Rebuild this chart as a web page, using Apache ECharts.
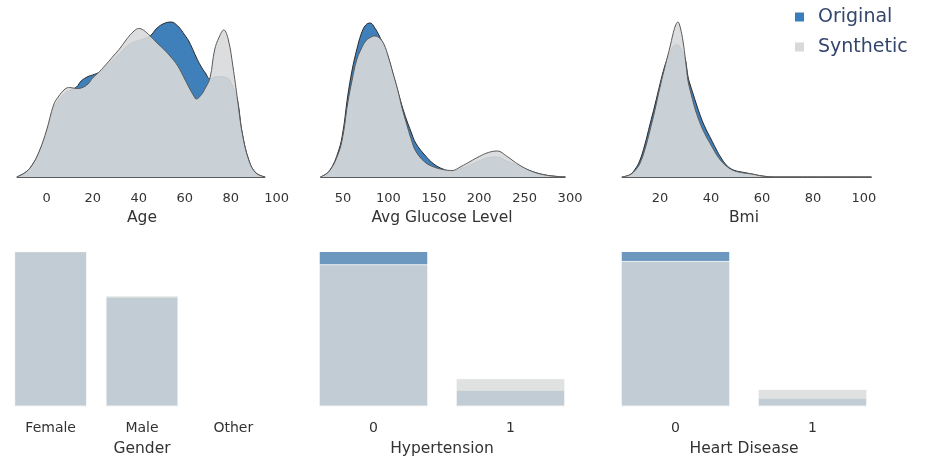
<!DOCTYPE html>
<html>
<head>
<meta charset="utf-8">
<script src="https://cdn.jsdelivr.net/npm/echarts@6/dist/echarts.min.js"></script>
<style>
  html, body { margin: 0; padding: 0; background: #fff; }
  #chart { width: 928px; height: 458px; }
</style>
</head>
<body>
<div id="chart"></div>
<script>
// density curves (relative units)
var ageX = [-13, -9, -6, -3, 0, 3, 5, 8, 10, 13, 15, 18, 20, 23, 26, 29, 32, 35, 38, 40, 42, 45, 48, 51, 54, 57, 60, 62, 64, 65, 67, 69, 71, 73, 75, 77, 79, 81, 83, 85, 88, 91, 95];
var ageOrig = [0, 5, 13, 26, 45, 68, 76, 84, 86.5, 90, 96, 100.5, 102, 105, 111, 117.5, 124, 131, 135, 136.5, 138, 141, 149, 153.5, 155, 151, 142, 135, 125, 120, 111, 104, 98, 100, 100.5, 100, 98.5, 90, 76, 44, 16, 4, 0];
var ageSynth = [0, 5, 13, 27, 47, 72, 80, 88, 89.5, 88.5, 89, 93, 99, 105.5, 113, 121, 129, 138.5, 146, 148.5, 147, 141, 134, 127.5, 120, 111, 98, 89, 81, 78, 81.5, 89, 99, 127, 140, 147, 137, 110, 77, 44, 16, 4, 0];

var glucX = [25, 35, 45, 50, 55, 60, 65, 70, 75, 80, 85, 90, 95, 100, 105, 110, 115, 120, 125, 130, 140, 150, 160, 170, 180, 190, 200, 210, 220, 230, 240, 250, 260, 270, 280, 295];
var glucOrig = [0, 6, 26, 46, 80, 107, 127, 143, 152, 154, 149, 141, 131, 119, 103, 87, 71, 57, 45, 34, 22, 13, 8, 5.5, 8.5, 12, 16, 19.5, 20, 16, 12.5, 8.5, 5, 2.5, 1, 0];
var glucSynth = [0, 6, 24, 42, 73, 97, 117, 128, 136, 139.5, 141, 139, 133, 120, 104, 88, 69, 53, 38, 26, 15, 10, 7.5, 6.5, 10.5, 15.5, 20.5, 24.5, 26, 21, 14.5, 9, 5, 2.5, 1, 0];

var bmiX = [5, 8, 10, 12, 14, 16, 18, 20, 22, 24, 25, 26, 27, 28, 29, 30, 31, 32, 33, 34, 36, 38, 40, 42, 44, 46, 48, 50, 53, 56, 60, 65, 80, 103];
var bmiOrig = [0, 2, 7, 16, 32, 52, 72, 93, 112, 125, 130, 132, 132, 129, 124, 117, 100, 91, 83, 75, 60, 48, 38, 28, 19, 12, 8, 6, 4.5, 3, 1, 0, 0, 0];
var bmiSynth = [0, 2, 6, 13, 27, 46, 67, 90, 111, 131, 142, 151, 155, 149, 136, 117, 96, 85, 75, 66, 52, 41, 32, 23, 16, 11, 7.5, 5.5, 4, 3, 1, 0, 0, 0];

// counts
var genderCats = ['Female', 'Male', 'Other'];
var genderOrig = [2994, 2115, 1];
var genderSynth = [2990, 2140, 0];
var hyperCats = ['0', '1'];
var hyperOrig = [4612, 498];
var hyperSynth = [4220, 845];
var heartCats = ['0', '1'];
var heartOrig = [4834, 276];
var heartSynth = [4525, 550];

var kdeTicks = {
  age: [0, 20, 40, 60, 80, 100],
  gluc: [50, 100, 150, 200, 250, 300],
  bmi: [20, 40, 60, 80, 100]
};

var BLUE = '#3f80bb';
var BAR_BLUE = '#6c98bf';
var GREY = '#d8d9da';
var FONT = 'DejaVu Sans';

function pairs(xs, ys) {
  return xs.map(function (x, i) { return [x, ys[i]]; });
}

var colLeft = [5, 305, 607];
var colWidth = 274;

var grids = [];
colLeft.forEach(function (l) { grids.push({ left: l, width: colWidth, top: 14, height: 163 }); });
colLeft.forEach(function (l) { grids.push({ left: l, width: colWidth, top: 243.2, height: 163.5 }); });

function kdeX(gi, name, min, max, ticks) {
  return {
    type: 'value', gridIndex: gi, min: min, max: max,
    name: name, nameLocation: 'middle', nameGap: 33,
    nameTextStyle: { fontSize: 15.5, color: '#333', fontFamily: FONT },
    axisLine: { show: false }, axisTick: { show: false }, splitLine: { show: false },
    axisLabel: { customValues: ticks, margin: 15.5, fontSize: 13, color: '#333', fontFamily: FONT }
  };
}
function catX(gi, name, cats) {
  return {
    type: 'category', gridIndex: gi, data: cats,
    name: name, nameLocation: 'middle', nameGap: 34,
    nameTextStyle: { fontSize: 15.5, color: '#333', fontFamily: FONT },
    axisLine: { show: false }, axisTick: { show: false }, splitLine: { show: false },
    axisLabel: { margin: 14.5, fontSize: 14, color: '#333', fontFamily: FONT }
  };
}

var xAxes = [
  kdeX(0, 'Age', -18.1, 101.0, kdeTicks.age),
  kdeX(1, 'Avg Glucose Level', 8.1, 309.9, kdeTicks.gluc),
  kdeX(2, 'Bmi', -0.8, 106.7, kdeTicks.bmi),
  catX(3, 'Gender', genderCats),
  catX(4, 'Hypertension', hyperCats),
  catX(5, 'Heart Disease', heartCats)
];

var yAxes = [];
for (var i = 0; i < 6; i++) {
  yAxes.push({
    type: 'value', gridIndex: i, show: false, min: 0,
    max: i < 3 ? 163 : function (v) { return v.max * 1.05; },
    splitLine: { show: false }
  });
}

function kdeSeries(gi, xs, orig, synth) {
  return [{
    name: 'Original', type: 'line', xAxisIndex: gi, yAxisIndex: gi, z: 2,
    data: pairs(xs, orig), smooth: 0.4, showSymbol: false,
    itemStyle: { color: BLUE },
    lineStyle: { color: '#2a2a2a', width: 1 },
    areaStyle: { color: BLUE, opacity: 1 }
  }, {
    name: 'Synthetic', type: 'line', xAxisIndex: gi, yAxisIndex: gi, z: 3,
    data: pairs(xs, synth), smooth: 0.4, showSymbol: false,
    itemStyle: { color: GREY },
    lineStyle: { color: '#5a5a5a', width: 1 },
    areaStyle: { color: GREY, opacity: 0.9 },
    markLine: {
      silent: true, symbol: 'none', label: { show: false },
      lineStyle: { color: '#5a5a5a', width: 1, type: 'solid' },
      data: [[{ coord: [xs[0], 0] }, { coord: [xs[xs.length - 1], 0] }]]
    }
  }];
}

function barSeries(gi, orig, synth) {
  return [{
    name: 'Original', type: 'bar', xAxisIndex: gi, yAxisIndex: gi,
    data: orig, barGap: '-100%', barCategoryGap: '20%',
    itemStyle: { color: BAR_BLUE, borderColor: '#fff', borderWidth: 1 }
  }, {
    name: 'Synthetic', type: 'bar', xAxisIndex: gi, yAxisIndex: gi, z: 3,
    data: synth, barGap: '-100%', barCategoryGap: '20%',
    itemStyle: { color: GREY, opacity: 0.8, borderColor: '#fff', borderWidth: 1 }
  }];
}

var series = [].concat(
  kdeSeries(0, ageX, ageOrig, ageSynth),
  kdeSeries(1, glucX, glucOrig, glucSynth),
  kdeSeries(2, bmiX, bmiOrig, bmiSynth),
  barSeries(3, genderOrig, genderSynth),
  barSeries(4, hyperOrig, hyperSynth),
  barSeries(5, heartOrig, heartSynth)
);

var chart = echarts.init(document.getElementById('chart'));
chart.setOption({
  animation: false,
  legend: {
    orient: 'vertical', left: 795, top: 6, padding: 0,
    icon: 'rect', itemWidth: 9, itemHeight: 9, itemGap: 8,
    itemStyle: { borderWidth: 0 },
    textStyle: { fontSize: 19, color: '#34466b', fontFamily: FONT, lineHeight: 22, padding: [0, 0, 0, 9] },
    data: [
      { name: 'Original', itemStyle: { color: '#3a7dbd' } },
      { name: 'Synthetic', itemStyle: { color: '#d9d9d9' } }
    ]
  },
  grid: grids,
  xAxis: xAxes,
  yAxis: yAxes,
  series: series
});
</script>
</body>
</html>
